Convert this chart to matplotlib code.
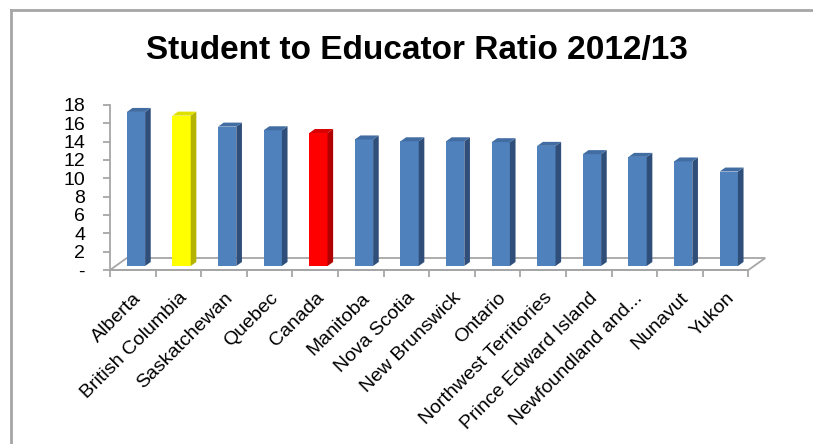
import numpy as np
import matplotlib
matplotlib.use("Agg")
import matplotlib.pyplot as plt
from matplotlib.patches import Polygon
from matplotlib.lines import Line2D

provinces = ["Alberta", "British Columbia", "Saskatchewan", "Quebec", "Canada",
             "Manitoba", "Nova Scotia", "New Brunswick", "Ontario",
             "Northwest Territories", "Prince Edward Island",
             "Newfoundland and...", "Nunavut", "Yukon"]
ratio = [16.8, 16.4, 15.2, 14.8, 14.5, 13.8, 13.6, 13.6, 13.5, 13.1, 12.2, 11.9, 11.4, 10.3]
highlight = {"British Columbia": "yellow", "Canada": "red"}
yticks = [0, 2, 4, 6, 8, 10, 12, 14, 16, 18]
ytick_labels = ["-"] + [str(v) for v in yticks[1:]]

plt.rcParams['font.family'] = ['Liberation Sans', 'DejaVu Sans']

# face colours: front, side, top
palette = {
    "blue": ("#4f81bd", "#2f4f7a", "#416da3"),
    "yellow": ("#ffff00", "#b3b300", "#e0e000"),
    "red": ("#ff0000", "#b00000", "#d80000"),
}

W, H = 813, 444
fig = plt.figure(figsize=(W / 100, H / 100), dpi=100)

# pixel scales of the plot area
px_cat = 45.6
px_val = 9.17
x0_px, y0_px = 110, 270          # front-left corner of the floor
xlim = (-0.6, 14.2)
ylim = (-0.5, 18.5)
left = x0_px + (xlim[0] + 0.5) * px_cat
bottom = y0_px - ylim[0] * px_val
ax = fig.add_axes([left / W, (H - bottom) / H,
                   (xlim[1] - xlim[0]) * px_cat / W,
                   (ylim[1] - ylim[0]) * px_val / H])
ax.set_xlim(*xlim)
ax.set_ylim(*ylim)

# depth of the floor (back edge relative to front edge)
dx, dy = 0.37, 1.31
n = len(provinces)
floor = Polygon([(-0.5, 0), (n - 0.5, 0), (n - 0.5 + dx, dy), (-0.5 + dx, dy)],
                closed=True, facecolor="white", edgecolor="#a6a6a6", lw=1.3, zorder=1)
ax.add_patch(floor)

# bars sit in the middle third of the depth
ox, oy = 0.07, dy / 3
sx, sy = dx / 3, dy / 3
bw = 0.4
x = np.arange(n)
for i, (name, v) in enumerate(zip(provinces, ratio)):
    front, side, top = palette[highlight.get(name, "blue")]
    xl = i + ox - bw / 2
    xr = xl + bw
    ax.bar(xl, v, width=bw, bottom=oy, align="edge", color=front, zorder=3)
    ax.add_patch(Polygon([(xr, oy), (xr + sx, oy + sy), (xr + sx, oy + v + sy), (xr, oy + v)],
                         closed=True, facecolor=side, edgecolor="none", zorder=3))
    ax.add_patch(Polygon([(xl, oy + v), (xr, oy + v), (xr + sx, oy + v + sy), (xl + sx, oy + v + sy)],
                         closed=True, facecolor=top, edgecolor="none", zorder=3))

# axes lines and ticks
for s in ["top", "right"]:
    ax.spines[s].set_visible(False)
ax.spines["left"].set_position(("data", -0.5))
ax.spines["left"].set_bounds(0, 18)
ax.spines["bottom"].set_position(("data", 0))
ax.spines["bottom"].set_bounds(-0.5, n - 0.5)
for s in ["left", "bottom"]:
    ax.spines[s].set_color("#a6a6a6")
    ax.spines[s].set_linewidth(1.3)
    ax.spines[s].set_zorder(2)

ax.set_yticks(yticks)
ax.set_yticklabels(ytick_labels, fontsize=14)
ax.tick_params(axis="y", length=5, width=1.3, color="#a6a6a6", pad=13)

ax.set_xticks(x)
ax.set_xticklabels(provinces, rotation=45, ha="right", rotation_mode="anchor", fontsize=14)
ax.set_xticks(np.arange(n + 1) - 0.5, minor=True)
ax.tick_params(axis="x", which="major", length=0, pad=14)
ax.tick_params(axis="x", which="minor", length=5, width=1.3, color="#a6a6a6")
ax.patch.set_visible(False)

fig.text(0.513, (H - 59) / H, "Student to Educator Ratio 2012/13",
         ha="center", va="baseline", fontsize=24, fontweight="bold")

# outer chart border
fig.add_artist(Line2D([11 / W, 11 / W], [0, 1 - 10 / H], color="#a6a6a6", lw=2))
fig.add_artist(Line2D([11 / W, 1], [1 - 10 / H, 1 - 10 / H], color="#a6a6a6", lw=2))

fig.savefig("out.png", dpi=100)
